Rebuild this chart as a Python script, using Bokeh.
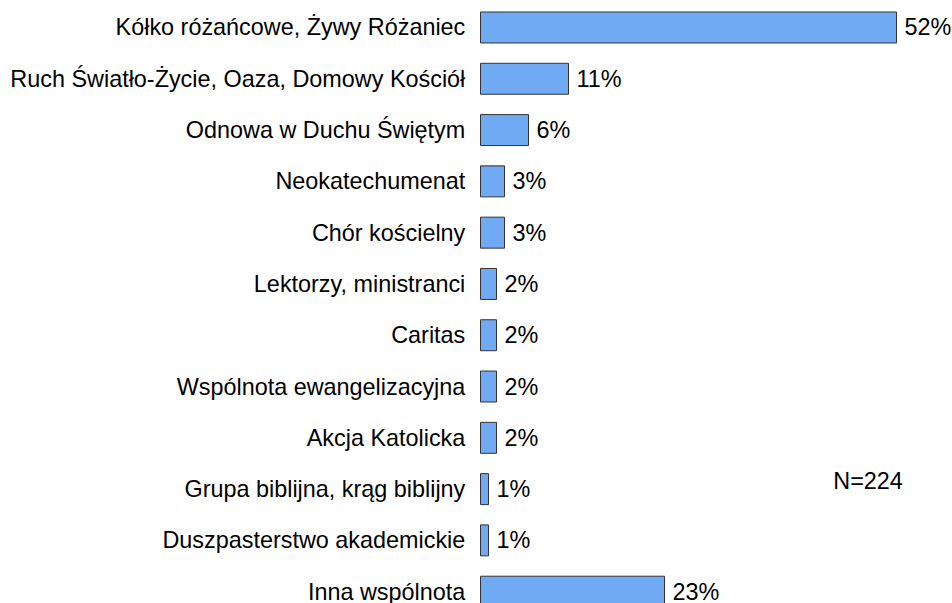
from bokeh.plotting import figure
from bokeh.models import ColumnDataSource, Label
from bokeh.core.properties import value
from bokeh.embed import file_html
from bokeh.resources import INLINE

categories = [
    "Kółko różańcowe, Żywy Różaniec",
    "Ruch Światło-Życie, Oaza, Domowy Kościół",
    "Odnowa w Duchu Świętym",
    "Neokatechumenat",
    "Chór kościelny",
    "Lektorzy, ministranci",
    "Caritas",
    "Wspólnota ewangelizacyjna",
    "Akcja Katolicka",
    "Grupa biblijna, krąg biblijny",
    "Duszpasterstwo akademickie",
    "Inna wspólnota",
]
values = [52, 11, 6, 3, 3, 2, 2, 2, 2, 1, 1, 23]
note = "N=224"

ys = [-i for i in range(len(categories))]
src = ColumnDataSource(dict(
    y=ys,
    v=values,
    cat=categories,
    lbl=[f"{v}%" for v in values],
    lx=[-1.9] * len(values),
    vx=[v + 1.0 for v in values],
))

p = figure(width=952, height=603, output_backend="svg", toolbar_location=None,
           x_range=(-60, 59), y_range=(-11.23, 0.526), min_border=0,
           outline_line_color=None)
p.axis.visible = False
p.grid.visible = False
p.background_fill_color = "white"
p.border_fill_color = "white"

p.hbar(y="y", left=0, right="v", height=0.604, source=src,
       fill_color="#70aaf3", line_color="#333333", line_width=1)

font = value("Liberation Sans")
p.text(x="lx", y="y", text="cat", source=src, text_align="right",
       text_baseline="middle", text_font=font, text_font_size="23.4px",
       text_color="#000000")
p.text(x="vx", y="y", text="lbl", source=src, text_align="left",
       text_baseline="middle", text_font=font, text_font_size="23.4px",
       text_color="#000000")

p.add_layout(Label(x=44.1, y=-8.85, text=note, text_font="Liberation Sans",
                   text_font_size="23.4px", text_baseline="middle",
                   text_color="#000000"))

open("out.html", "w").write(file_html(p, INLINE))
